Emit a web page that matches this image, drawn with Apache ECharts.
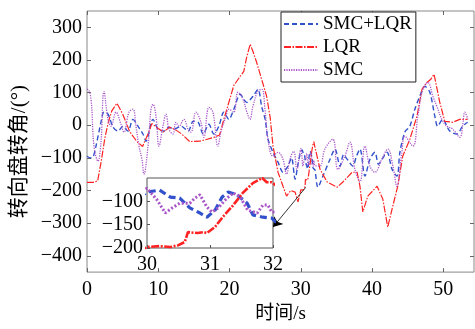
<!DOCTYPE html>
<html>
<head>
<meta charset="utf-8">
<script src="https://cdn.jsdelivr.net/npm/echarts@6/dist/echarts.min.js"></script>
<style>
  html, body { margin: 0; padding: 0; background: #fff; }
  #chart { width: 475px; height: 329px; }
</style>
</head>
<body>
<div id="chart"></div>
<script>
// [time s, steering angle deg]
const smcLqr = [
  [0,-95],[0.5,-100],[0.84,-98],[1.26,-64],[1.96,9],[2.38,40],[2.95,34],[3.65,-6],[4.35,-18],[5.05,-3],
  [5.75,-18],[6.45,18],[7.15,-3],[7.85,-27],[8.27,-49],[9.26,18],[9.96,-12],[10.8,-18],[11.5,-6],[12.2,-12],
  [13.2,-3],[14.2,-18],[14.9,12],[15.6,9],[16.3,-27],[17.1,3],[17.8,-27],[18.5,-3],[19.2,40],[19.9,18],
  [20.6,49],[21.5,95],[22.4,70],[23.3,89],[24.0,110],[24.5,58],[25.0,18],[25.4,-43],[26.1,-83],[26.8,-113],
  [27.5,-144],[28.2,-125],[28.7,-100],[29.2,-165],[29.6,-120],[30.0,-80],[30.2,-76],[30.37,-91],[30.52,-93],
  [30.68,-114],[30.84,-125],[30.95,-134],[31.08,-119],[31.19,-91],[31.29,-80],[31.43,-86],[31.59,-104],
  [31.68,-129],[31.84,-134],[31.98,-136],[32.4,-190],[33.1,-156],[34.1,-104],[34.8,-73],[35.5,-125],
  [36.0,-90],[36.5,-104],[37.3,-125],[37.8,-95],[38.3,-73],[39.0,-156],[39.7,-104],[40.4,-83],[40.9,-120],
  [41.4,-104],[42.1,-83],[42.8,-135],[43.5,-156],[43.9,-83],[44.6,-21],[45.3,-3],[46.0,49],[46.7,89],
  [47.4,119],[48.1,101],[48.8,28],[49.2,-3],[49.9,18],[50.9,-18],[51.9,-27],[52.7,-3],[53.4,9]
];
const lqr = [
  [0,-175],[1.0,-175],[1.5,-170],[2.0,-110],[2.5,-40],[3.0,10],[3.5,45],[4.2,67],[5.0,35],[6.0,-20],
  [7.0,-50],[7.8,-65],[8.5,-30],[9.1,5],[10.0,-10],[10.7,-21],[11.6,-6],[12.5,-15],[13.3,-27],[14.4,-50],
  [15.8,-49],[17.7,-38],[18.6,-30],[19.1,10],[19.9,70],[20.6,122],[21.5,150],[22.0,165],[22.4,208],[22.9,248],
  [23.3,225],[23.8,193],[24.5,141],[25.2,89],[25.7,24],[26.1,-64],[26.8,-144],[27.5,-187],[28.0,-217],
  [28.6,-200],[29.2,-205],[29.6,-235],[30.0,-198],[30.2,-196],[30.37,-198],[30.5,-194],[30.6,-187],
  [30.65,-166],[30.8,-168],[30.9,-166],[30.95,-168],[31.08,-155],[31.2,-134],[31.37,-108],[31.52,-82],
  [31.68,-61],[31.83,-50],[31.9,-59],[31.98,-59],[32.7,-135],[33.7,-174],[35.1,-190],[35.9,-174],
  [37.2,-144],[37.9,-144],[38.3,-187],[38.7,-266],[39.4,-217],[40.7,-187],[41.5,-226],[42.2,-312],
  [42.9,-248],[43.6,-187],[44.3,-95],[45.3,-43],[46.3,28],[47.0,110],[47.7,131],[48.2,140],[48.7,156],
  [49.5,70],[50.2,12],[51.3,9],[52.3,18],[53.4,18]
];
const smc = [
  [0,110],[0.1,110],[0.56,80],[0.98,-64],[1.54,-110],[1.96,-52],[2.38,104],[2.95,18],[3.37,-3],[4.07,40],
  [4.77,3],[5.19,-21],[5.89,40],[6.45,49],[6.87,-3],[7.29,-64],[7.71,-104],[7.99,-150],[8.56,-64],[8.98,49],
  [9.26,64],[9.68,28],[10.1,-64],[10.66,-3],[11.08,34],[11.5,-12],[12.06,-27],[12.48,9],[12.9,-3],[13.6,18],
  [14.17,-12],[14.59,-21],[15.29,40],[15.99,9],[16.41,-37],[17.11,55],[17.67,40],[18.37,-64],[18.79,-21],
  [19.5,28],[19.9,49],[20.6,40],[21.18,101],[21.88,80],[22.44,40],[22.86,18],[23.28,58],[23.98,104],
  [24.54,110],[24.97,49],[25.39,-43],[26.09,-95],[26.79,-83],[27.49,-104],[28.0,-150],[28.47,-104],
  [29.0,-80],[29.45,-135],[29.87,-83],[30.0,-72],[30.16,-97],[30.29,-125],[30.4,-114],[30.52,-104],
  [30.68,-104],[30.76,-93],[30.84,-86],[30.95,-112],[31.03,-123],[31.13,-114],[31.27,-93],[31.37,-82],
  [31.48,-91],[31.6,-119],[31.75,-125],[31.84,-108],[31.92,-108],[31.98,-123],[32.68,-125],[33.38,-73],
  [34.5,-43],[35.2,-135],[36.18,-95],[36.89,-52],[37.59,-135],[38.29,-174],[38.99,-64],[39.69,-125],
  [40.39,-144],[41.37,-104],[42.22,-73],[42.92,-125],[43.48,-187],[44.18,-83],[44.6,-34],[45.72,-64],
  [46.42,28],[47.12,110],[47.83,131],[48.53,89],[49.09,58],[49.79,18],[50.49,-3],[51.33,-12],[52.31,-37],
  [52.73,3],[53.0,40],[53.44,18]
];
const seriesNames = ['SMC+LQR', 'LQR', 'SMC'];
const mainXTicks = [0, 10, 20, 30, 40, 50];
const mainYTicks = [-400, -300, -200, -100, 0, 100, 200, 300];
// arrow from the zoomed region to the inset, in data units
const arrowFrom = [30.7, -190];
const arrowTo = [26.1, -312];

const serif = 'Liberation Serif, Noto Sans CJK SC';
const minus = v => String(v).replace('-', '\u2212');
const colors = { blue: '#3050cc', red: '#ff2222', purple: '#a855c8' };

function mirrorAxis(extra) {
  return Object.assign({
    gridIndex: 0, axisLine: { show: false, onZero: false }, axisLabel: { show: false },
    splitLine: { show: false }
  }, extra);
}

const chart = echarts.init(document.getElementById('chart'));
chart.setOption({
  animation: false,
  backgroundColor: '#fff',
  legend: {
    orient: 'vertical', left: 281, top: 12, data: seriesNames,
    backgroundColor: '#fff', borderColor: '#222', borderWidth: 1, borderRadius: 0,
    padding: [2, 4, 2, 2], itemGap: 3, itemWidth: 34, itemHeight: 12, z: 20,
    itemStyle: { opacity: 0 },
    textStyle: { fontFamily: serif, fontSize: 19, color: '#000', lineHeight: 20 }
  },
  grid: [
    { left: 87, right: 1, top: 11, bottom: 56, show: true, borderColor: '#888', borderWidth: 1 },
    { left: 147, top: 178, width: 126, height: 70, show: true, backgroundColor: '#fff',
      borderColor: '#555', borderWidth: 1, z: 5 }
  ],
  xAxis: [
    { type: 'value', gridIndex: 0, min: 0, max: 54.3, splitLine: { show: false },
      axisLine: { show: false, onZero: false },
      axisTick: { inside: true, length: 4, customValues: mainXTicks, lineStyle: { color: '#666' } },
      axisLabel: { customValues: mainXTicks, fontFamily: serif, fontSize: 20, color: '#000', margin: 8 },
      name: '时间/s', nameLocation: 'middle', nameGap: 27,
      nameTextStyle: { fontFamily: serif, fontSize: 19, color: '#000' } },
    mirrorAxis({ type: 'value', position: 'top', min: 0, max: 54.3,
      axisTick: { inside: true, length: 4, customValues: mainXTicks, lineStyle: { color: '#666' } } }),
    { type: 'value', gridIndex: 1, min: 30, max: 32, interval: 1, z: 6, splitLine: { show: false },
      axisLine: { show: false, onZero: false },
      axisTick: { inside: true, length: 3, lineStyle: { color: '#555' } },
      axisLabel: { fontFamily: serif, fontSize: 20, color: '#000', margin: 7 } }
  ],
  yAxis: [
    { type: 'value', gridIndex: 0, min: -450, max: 350, splitLine: { show: false },
      axisLine: { show: false, onZero: false },
      axisTick: { inside: true, length: 4, customValues: mainYTicks, lineStyle: { color: '#666' } },
      axisLabel: { customValues: mainYTicks, fontFamily: serif, fontSize: 20, color: '#000', margin: 5,
        formatter: minus },
      name: '转向盘转角/(°)', nameLocation: 'middle', nameGap: 54,
      nameTextStyle: { fontFamily: serif, fontSize: 21, color: '#000', padding: [0, 20, 0, 0] } },
    mirrorAxis({ type: 'value', position: 'right', min: -450, max: 350,
      axisTick: { inside: true, length: 4, customValues: mainYTicks, lineStyle: { color: '#666' } } }),
    { type: 'value', gridIndex: 1, min: -200, max: -50, interval: 50, z: 6, splitLine: { show: false },
      axisLine: { show: false, onZero: false },
      axisTick: { inside: true, length: 3, lineStyle: { color: '#555' } },
      axisLabel: { fontFamily: serif, fontSize: 20, color: '#000', margin: 4, showMaxLabel: false,
        formatter: minus } }
  ],
  series: [
    { name: 'SMC+LQR', type: 'line', data: smcLqr, xAxisIndex: 0, yAxisIndex: 0, symbol: 'none',
      smooth: 0.3, color: colors.blue,
      lineStyle: { color: colors.blue, width: 1.4, type: [5, 3] } },
    { name: 'LQR', type: 'line', data: lqr, xAxisIndex: 0, yAxisIndex: 0, symbol: 'none',
      color: colors.red,
      lineStyle: { color: colors.red, width: 1.2, type: [7, 1.5, 1.5, 1.5] },
      markLine: { silent: true, symbol: ['none', 'arrow'], symbolSize: 9, label: { show: false },
        lineStyle: { color: '#000', width: 0.8, type: 'solid' },
        data: [[{ coord: arrowFrom }, { coord: arrowTo }]] } },
    { name: 'SMC', type: 'line', data: smc, xAxisIndex: 0, yAxisIndex: 0, symbol: 'none',
      smooth: 0.4, color: colors.purple,
      lineStyle: { color: colors.purple, width: 1.3, type: [1.2, 1.2] } },
    { name: 'SMC+LQR', type: 'line', data: smcLqr, xAxisIndex: 2, yAxisIndex: 2, symbol: 'none', z: 6,
      color: colors.blue, lineStyle: { color: colors.blue, width: 3.2, type: [7, 4] } },
    { name: 'LQR', type: 'line', data: lqr, xAxisIndex: 2, yAxisIndex: 2, symbol: 'none', z: 6,
      color: colors.red, lineStyle: { color: colors.red, width: 2.6, type: [8, 1.5, 2, 1.5] } },
    { name: 'SMC', type: 'line', data: smc, xAxisIndex: 2, yAxisIndex: 2, symbol: 'none', z: 6,
      color: colors.purple, lineStyle: { color: colors.purple, width: 3, type: [2, 2] } }
  ]
});
</script>
</body>
</html>
